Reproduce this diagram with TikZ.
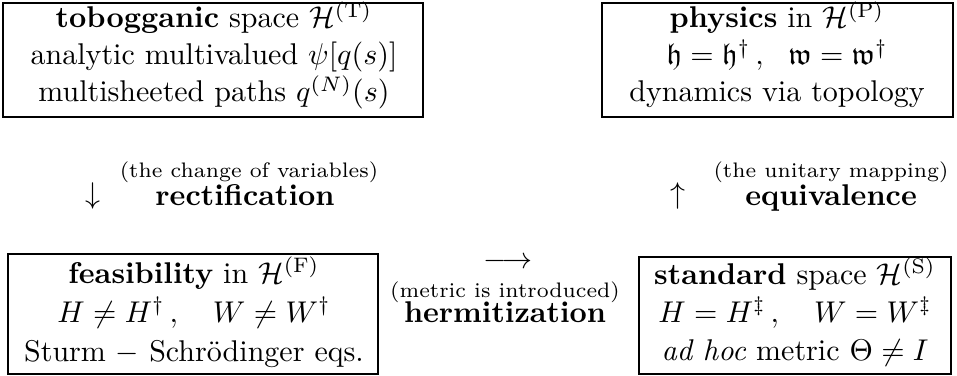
\documentclass[tikz,border=0pt]{standalone}
\usepackage{amsmath,amssymb}
\begin{document}
\begin{tikzpicture}[x=0.3333pt,y=-0.3333pt,
  frame/.style={draw,line width=0.8pt},
  txt/.style={inner sep=0pt,anchor=base},
  small/.style={inner sep=0pt,anchor=base,font=\scriptsize}]
\useasboundingbox (0,0) rectangle (957,376);
% boxes
\draw[frame] (3,3) rectangle (423,117);
\draw[frame] (602,3) rectangle (953,117);
\draw[frame] (8,254) rectangle (378,374);
\draw[frame] (639,257) rectangle (951,374);
% top-left
\node[txt] (tl1) at (214,28) {\textbf{tobogganic} space $\mathcal{H}^{(\rm T)}$};
\node[txt] (tl2) at (214,65) {analytic multivalued $\psi[q(s)]$};
\node[txt] (tl3) at (214,102) {multisheeted paths $q^{(N)}(s)$};
% top-right
\node[txt] (tr1) at (777,28) {\textbf{physics} in $\mathcal{H}^{(\rm P)}$};
\node[txt] (tr2) at (777,65) {$\mathfrak{h}=\mathfrak{h}^\dagger\,,\ \ \mathfrak{w}=\mathfrak{w}^\dagger$};
\node[txt] (tr3) at (777,102) {dynamics via topology};
% bottom-left
\node[txt] (bl1) at (194,283) {\textbf{feasibility} in $\mathcal{H}^{(\rm F)}$};
\node[txt] (bl2) at (194,322) {$H \neq H^\dagger\,,\ \ \ W\neq W^\dagger$};
\node[txt] (bl3) at (194,361) {Sturm $-$ Schr\"odinger eqs.};
% bottom-right
\node[txt] (br1) at (795,284) {\textbf{standard} space $\mathcal{H}^{(\rm S)}$};
\node[txt] (br2) at (795,322) {$H = H^\ddagger\,,\ \ \ W = W^\ddagger$};
\node[txt] (br3) at (795,360) {\textit{ad hoc} metric $\Theta\neq I$};
% middle left
\node[txt] (dn) at (93,203) {$\downarrow$};
\node[small] (cv) at (249,178) {(the change of variables)};
\node[txt] (rect) at (245,205) {\textbf{rectification}};
% middle right
\node[txt] (up) at (678,203) {$\uparrow$};
\node[small] (um) at (831,178) {(the unitary mapping)};
\node[txt] (eqv) at (831,205) {\textbf{equivalence}};
% bottom middle
\node[txt] (ra) at (508,268) {$\longrightarrow$};
\node[small] (mi) at (505,297) {(metric is introduced)};
\node[txt] (herm) at (505,322) {\textbf{hermitization}};
\end{tikzpicture}
\end{document}
